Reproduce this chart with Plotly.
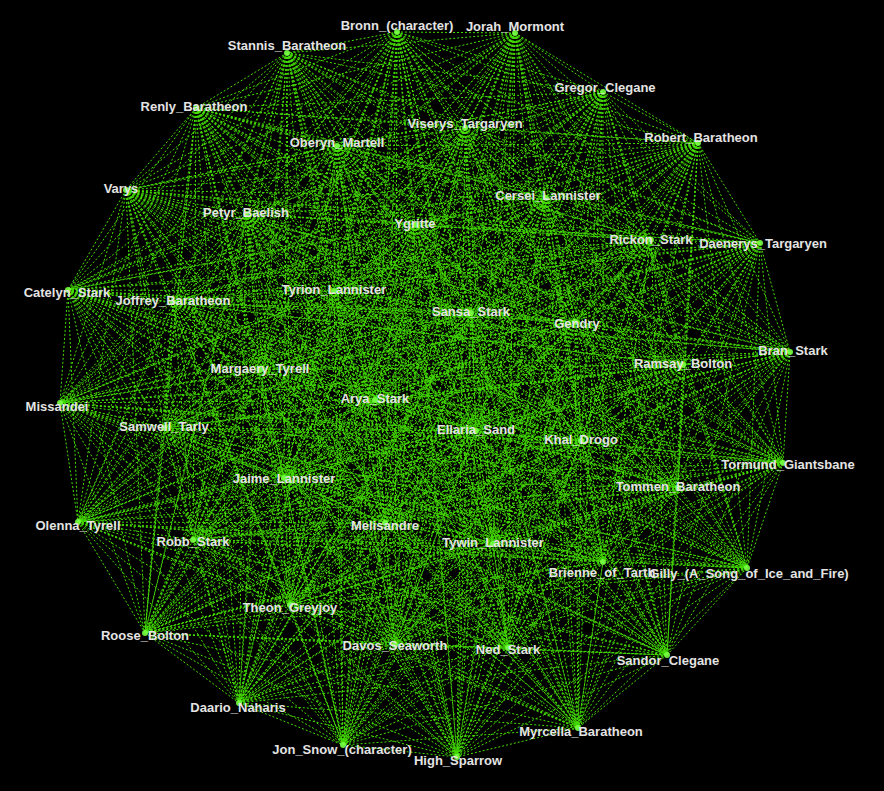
import itertools
import plotly.graph_objects as go

# Character names (nodes) and their positions (pixel space)
names = [
    "Bronn_(character)", "Jorah_Mormont", "Stannis_Baratheon", "Gregor_Clegane",
    "Renly_Baratheon", "Viserys_Targaryen", "Oberyn_Martell", "Robert_Baratheon",
    "Varys", "Cersei_Lannister", "Petyr_Baelish", "Ygritte", "Rickon_Stark",
    "Daenerys_Targaryen", "Catelyn_Stark", "Joffrey_Baratheon", "Tyrion_Lannister",
    "Sansa_Stark", "Gendry", "Bran_Stark", "Ramsay_Bolton", "Margaery_Tyrell",
    "Missandei", "Arya_Stark", "Ellaria_Sand", "Khal_Drogo", "Samwell_Tarly",
    "Tormund_Giantsbane", "Jaime_Lannister", "Tommen_Baratheon", "Olenna_Tyrell",
    "Melisandre", "Robb_Stark", "Tywin_Lannister", "Brienne_of_Tarth",
    "Gilly_(A_Song_of_Ice_and_Fire)", "Theon_Greyjoy", "Roose_Bolton",
    "Davos_Seaworth", "Ned_Stark", "Sandor_Clegane", "Daario_Naharis",
    "Myrcella_Baratheon", "Jon_Snow_(character)", "High_Sparrow",
]
node_x = [
    397, 515, 287, 603, 196, 465, 337, 698, 126, 546, 246, 415, 651,
    760, 68, 173, 334, 471, 575, 790, 683, 260,
    60, 375, 476, 581, 164,
    783, 284, 678, 78, 385, 193, 493, 603,
    747, 290, 145, 395, 508, 667, 239,
    578, 343, 457,
]
node_y = [
    32, 33, 53, 92, 108, 128, 146, 143, 190, 198, 214, 225, 240,
    243, 290, 302, 291, 313, 322, 352, 365, 370,
    403, 400, 431, 441, 428,
    463, 478, 488, 522, 523, 540, 544, 562,
    568, 605, 633, 645, 648, 655, 703,
    728, 745, 757,
]
# where each name label sits (its centre)
label_x = [
    397, 515, 287, 605, 194, 465, 337, 701, 121, 548, 246, 415, 651,
    763, 67, 173, 334, 471, 577, 793, 683, 260,
    57, 375, 476, 581, 164,
    788, 284, 678, 78, 385, 193, 493, 602,
    749, 290, 145, 395, 508, 668, 238,
    581, 342, 458,
]
label_y = [
    27, 28, 47, 89, 108, 125, 144, 139, 190, 197, 214, 225, 241,
    245, 294, 302, 291, 313, 325, 352, 365, 370,
    408, 400, 431, 441, 428,
    466, 480, 488, 527, 527, 543, 544, 574,
    575, 609, 637, 647, 651, 662, 709,
    733, 751, 762,
]

# Dense link graph: every character page links to every other one
edges = list(itertools.combinations(range(len(names)), 2))

ex, ey = [], []
for a, b in edges:
    ex += [node_x[a], node_x[b], None]
    ey += [node_y[a], node_y[b], None]

fig = go.Figure()

fig.add_trace(go.Scatter(
    x=ex, y=ey, mode="lines",
    line=dict(color="#44dd00", width=1, dash="2px,2px"),
    hoverinfo="skip", showlegend=False,
))

fig.add_trace(go.Scatter(
    x=node_x, y=node_y, mode="markers",
    marker=dict(size=6, color="#77ff44", opacity=0.9, line=dict(width=0)),
    hoverinfo="text", hovertext=names, showlegend=False,
))

fig.add_trace(go.Scatter(
    x=label_x, y=label_y, mode="text", text=names,
    textposition="middle center",
    textfont=dict(family="Liberation Sans, Arial", size=13, color="#e4e4e4",
                  weight="bold"),
    hoverinfo="skip", showlegend=False,
))

fig.update_layout(
    width=884, height=791,
    margin=dict(l=0, r=0, t=0, b=0),
    paper_bgcolor="black", plot_bgcolor="black",
    xaxis=dict(range=[0, 884], visible=False, fixedrange=True),
    yaxis=dict(range=[791, 0], visible=False, fixedrange=True),
)

# drop the page margin so the black canvas fills the window
fig.write_html(
    "out.html",
    config={"displayModeBar": False},
    post_script="document.body.style.margin='0';"
                "document.body.style.background='black';"
                "document.body.style.overflow='hidden';",
)
